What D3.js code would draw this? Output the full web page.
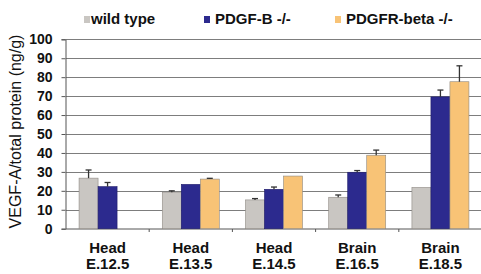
<!DOCTYPE html>
<html>
<head>
<meta charset="utf-8">
<script src="https://cdn.jsdelivr.net/npm/d3@7"></script>
<style>
  body { margin: 0; background: #fff; }
  svg { display: block; font-family: "Liberation Sans", Arial, sans-serif; }
</style>
</head>
<body>
<svg id="chart"></svg>
<script>
// data
const stages = ['Head|E.12.5', 'Head|E.13.5', 'Head|E.14.5', 'Brain|E.16.5', 'Brain|E.18.5'];
const seriesNames = ['wild type', 'PDGF-B -/-', 'PDGFR-beta -/-'];
const seriesColors = ['#c9c6c2', '#2c2a8e', '#f8c376'];
const wildType = [26.7, 19.3, 15.2, 16.6, 21.8];
const wildTypeErr = [4.3, 0.7, 0.7, 1.2, 0.2];
const pdgfB = [22.2, 23.4, 20.8, 29.8, 69.6];
const pdgfBErr = [2.2, 0.2, 1.2, 0.9, 3.6];
const pdgfrBeta = [null, 26.2, 27.8, 38.8, 77.6];
const pdgfrBetaErr = [null, 0.4, 0, 2.7, 8.4];
const yTicks = [0, 10, 20, 30, 40, 50, 60, 70, 80, 90, 100];

const values = [wildType, pdgfB, pdgfrBeta];
const errors = [wildTypeErr, pdgfBErr, pdgfrBetaErr];

const width = 481, height = 274;
const svg = d3.select('#chart').attr('width', width).attr('height', height);

const x = d3.scaleBand().domain(stages).range([66, 482]).paddingInner(0.315).paddingOuter(0.157);
const xInner = d3.scaleBand().domain(seriesNames).range([0, x.bandwidth()]);
const y = d3.scaleLinear().domain([0, 100]).range([228.7, 39.3]);

// gridlines
svg.append('g')
  .selectAll('line')
  .data(yTicks.filter(d => d > 0))
  .join('line')
  .attr('x1', 66).attr('x2', 481)
  .attr('y1', d => Math.round(y(d)) + 0.5).attr('y2', d => Math.round(y(d)) + 0.5)
  .attr('stroke', '#7d7d7d').attr('stroke-width', 1.2);

// y axis
const yAxis = svg.append('g')
  .attr('transform', 'translate(65.5,0)')
  .call(d3.axisLeft(y).tickValues(yTicks).tickSize(4).tickPadding(9));
yAxis.select('.domain').attr('stroke', '#555');
yAxis.selectAll('.tick line').attr('stroke', '#555');
yAxis.selectAll('.tick text')
  .attr('font-size', 14).attr('font-weight', 'bold').attr('fill', '#111')
  .attr('font-family', '"Liberation Sans", Arial, sans-serif');

// baseline with group separators
svg.append('line')
  .attr('x1', 66).attr('x2', 481)
  .attr('y1', 229).attr('y2', 229)
  .attr('stroke', '#555');
svg.append('g')
  .selectAll('line')
  .data(stages.slice(1))
  .join('line')
  .attr('x1', d => x(d) - x.step() * x.paddingInner() / 2)
  .attr('x2', d => x(d) - x.step() * x.paddingInner() / 2)
  .attr('y1', 229).attr('y2', 232)
  .attr('stroke', '#555');

// bars
const rows = [];
stages.forEach((s, i) => {
  seriesNames.forEach((n, k) => {
    if (values[k][i] != null) rows.push({ stage: s, series: n, k, v: values[k][i], e: errors[k][i] });
  });
});

const bars = svg.append('g');
bars.selectAll('rect')
  .data(rows)
  .join('rect')
  .attr('x', d => x(d.stage) + xInner(d.series))
  .attr('y', d => y(d.v))
  .attr('width', xInner.bandwidth())
  .attr('height', d => y(0) - y(d.v))
  .attr('fill', d => seriesColors[d.k])
  .attr('stroke', d => d.k === 1 ? '#1e1c6a' : '#8f8a84')
  .attr('stroke-width', 0.6);

// error bars (upper half only)
const err = svg.append('g').attr('stroke', '#333').attr('stroke-width', 1.3);
const withErr = rows.filter(d => d.e > 0.3);
err.selectAll('line.v')
  .data(withErr)
  .join('line')
  .attr('class', 'v')
  .attr('x1', d => x(d.stage) + xInner(d.series) + xInner.bandwidth() / 2)
  .attr('x2', d => x(d.stage) + xInner(d.series) + xInner.bandwidth() / 2)
  .attr('y1', d => y(d.v)).attr('y2', d => y(d.v + d.e));
err.selectAll('line.c')
  .data(withErr)
  .join('line')
  .attr('class', 'c')
  .attr('x1', d => x(d.stage) + xInner(d.series) + xInner.bandwidth() / 2 - 3)
  .attr('x2', d => x(d.stage) + xInner(d.series) + xInner.bandwidth() / 2 + 3)
  .attr('y1', d => y(d.v + d.e)).attr('y2', d => y(d.v + d.e));

// x labels (two lines)
const xl = svg.append('g')
  .selectAll('text')
  .data(stages)
  .join('text')
  .attr('text-anchor', 'middle')
  .attr('font-size', 15).attr('font-weight', 'bold').attr('fill', '#111');
xl.append('tspan')
  .attr('x', d => x(d) + x.bandwidth() / 2).attr('y', 253)
  .text(d => d.split('|')[0]);
xl.append('tspan')
  .attr('x', d => x(d) + x.bandwidth() / 2).attr('y', 268.5)
  .text(d => d.split('|')[1]);

// y title
svg.append('text')
  .attr('transform', 'translate(21,131.5) rotate(-90)')
  .attr('text-anchor', 'middle')
  .attr('font-size', 16)
  .attr('fill', '#111')
  .text('VEGF-A/total protein (ng/g)');

// legend
const legendX = [84, 204, 335];
const lg = svg.append('g')
  .selectAll('g')
  .data(seriesNames)
  .join('g')
  .attr('transform', (d, i) => `translate(${legendX[i]},0)`);
lg.append('rect')
  .attr('x', 0).attr('y', 16).attr('width', 6).attr('height', 7)
  .attr('fill', (d, i) => seriesColors[i]);
lg.append('text')
  .attr('x', (d, i) => i === 0 ? 7 : 11).attr('y', 24)
  .attr('font-size', 15).attr('font-weight', 'bold').attr('fill', '#111')
  .text(d => d);
</script>
</body>
</html>
